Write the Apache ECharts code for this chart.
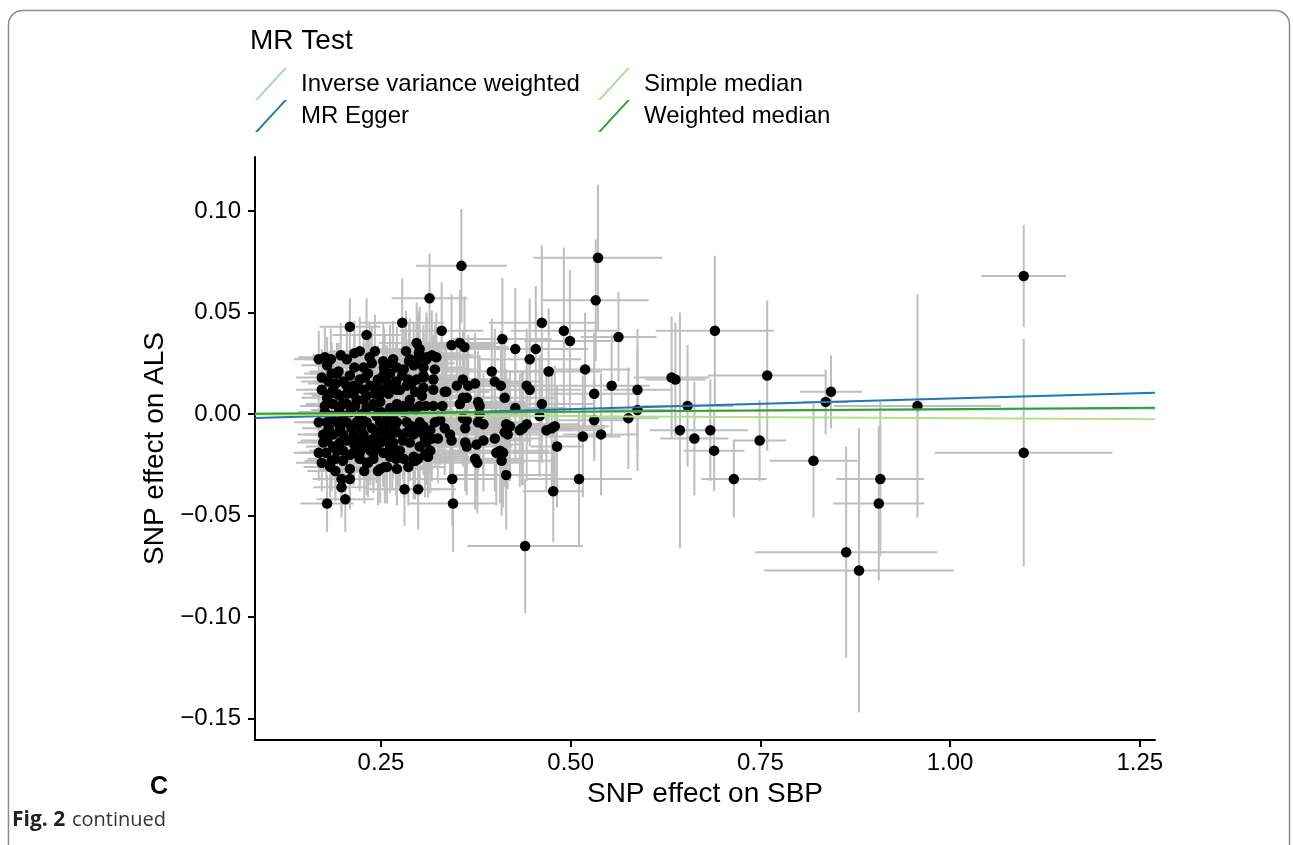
<!DOCTYPE html>
<html>
<head>
<meta charset="utf-8">
<script src="https://cdn.jsdelivr.net/npm/echarts@6/dist/echarts.min.js"></script>
<style>
html,body{margin:0;padding:0;background:#fff;}
#chart{width:1293px;height:845px;}
</style>
</head>
<body>
<div id="chart"></div>
<script>
// ---- axis ranges & ticks ----
const X_MIN = 0.084, X_MAX = 1.27;
const Y_MIN = -0.1605, Y_MAX = 0.1266;
const xTicks = [0.25, 0.50, 0.75, 1.00, 1.25];
const yTicks = [-0.15, -0.10, -0.05, 0.00, 0.05, 0.10];

// ---- MR method fits ----
const methods = ['Inverse variance weighted', 'MR Egger', 'Simple median', 'Weighted median'];
const methodIntercept = [0, -0.0028, 0, 0];
const methodSlope = [0.0022, 0.0105, -0.0020, 0.0025];
const methodColors = ['#a6cee3', '#1f78b4', '#b2df8a', '#33a02c'];

// ---- SNPs: [beta SBP, beta ALS, se SBP, se ALS] ----
const clusterUpper = [
 [0.209,0.043,0.040,0.014],[0.231,0.039,0.045,0.018],[0.278,0.045,0.055,0.022],[0.297,0.035,0.050,0.020],
 [0.300,0.030,0.055,0.021],[0.298,0.027,0.050,0.022],[0.283,0.031,0.048,0.020],[0.287,0.026,0.052,0.019],
 [0.293,0.024,0.046,0.021],[0.306,0.013,0.055,0.022],[0.309,0.004,0.050,0.020],[0.288,0.004,0.048,0.021],
 [0.262,0.003,0.045,0.018],[0.271,0.002,0.050,0.019],[0.286,0.017,0.047,0.020],[0.297,0.017,0.052,0.021],
 [0.306,0.019,0.050,0.022],[0.253,0.012,0.044,0.018],[0.260,0.010,0.046,0.017],[0.271,0.012,0.048,0.019],
 [0.246,0.017,0.042,0.017],[0.253,0.019,0.045,0.018],[0.262,0.020,0.047,0.018],[0.254,0.023,0.043,0.019],
 [0.262,0.025,0.048,0.019],[0.271,0.023,0.046,0.020],[0.266,0.027,0.050,0.019],[0.242,0.031,0.045,0.018],
 [0.222,0.031,0.040,0.017],[0.227,0.023,0.042,0.016],[0.233,0.020,0.044,0.017],[0.222,0.017,0.040,0.016],
 [0.209,0.019,0.038,0.015],[0.200,0.016,0.040,0.015],[0.192,0.020,0.036,0.015],[0.194,0.021,0.038,0.014],
 [0.197,0.029,0.037,0.016],[0.168,0.027,0.033,0.014],[0.176,0.028,0.035,0.015],[0.179,0.024,0.034,0.014],
 [0.181,0.016,0.036,0.014],[0.183,0.010,0.035,0.015],[0.179,0.008,0.034,0.014],[0.176,0.004,0.033,0.015],
 [0.176,0.001,0.035,0.014],[0.192,0.010,0.037,0.015],[0.205,0.010,0.039,0.015],[0.200,0.005,0.038,0.016],
 [0.187,0.005,0.036,0.015],[0.214,0.010,0.040,0.016],[0.227,0.012,0.042,0.016],[0.227,0.007,0.043,0.017],
 [0.216,0.004,0.040,0.016],[0.231,0.003,0.042,0.017],[0.240,0.004,0.044,0.017],[0.236,0.014,0.043,0.017],
 [0.242,0.010,0.045,0.018],[0.229,0.018,0.042,0.017],[0.214,0.014,0.039,0.016],[0.253,0.026,0.046,0.019],
 [0.255,0.021,0.045,0.018],[0.288,0.027,0.049,0.020],[0.297,0.025,0.050,0.020],[0.306,0.023,0.053,0.021],
 [0.310,0.028,0.055,0.022],[0.187,0.012,0.036,0.015],[0.196,0.009,0.037,0.015],[0.205,0.005,0.038,0.016],
 [0.218,0.007,0.040,0.016],[0.231,0.009,0.042,0.017],[0.240,0.005,0.044,0.017],[0.249,0.010,0.045,0.018],
 [0.262,0.014,0.047,0.018],[0.275,0.012,0.049,0.019],[0.284,0.014,0.050,0.019],[0.290,0.015,0.050,0.020],
 [0.295,0.011,0.051,0.020],[0.304,0.009,0.052,0.021],[0.271,0.005,0.048,0.019],[0.279,0.004,0.049,0.019],
 [0.288,0.007,0.050,0.020],[0.301,0.004,0.052,0.020],
 [0.195,0.002,0.037,0.015],[0.210,0.001,0.039,0.016],[0.225,0.000,0.041,0.016],[0.250,0.001,0.045,0.018],
 [0.280,0.001,0.049,0.019],[0.295,0.002,0.051,0.020],[0.190,0.015,0.036,0.015],[0.205,0.014,0.038,0.015],
 [0.220,0.013,0.041,0.016],[0.245,0.014,0.044,0.017],[0.270,0.016,0.048,0.019],[0.278,0.019,0.049,0.019],
 [0.185,0.020,0.036,0.015],[0.215,0.023,0.040,0.016],[0.238,0.025,0.044,0.018],[0.280,0.022,0.049,0.020],
 [0.172,0.018,0.034,0.014],[0.184,0.027,0.035,0.015],[0.205,0.027,0.038,0.016],[0.215,0.030,0.040,0.016],
 [0.249,0.006,0.045,0.018],[0.258,0.016,0.046,0.018],[0.235,0.028,0.043,0.017],[0.172,0.012,0.034,0.014]
];
const clusterLower = [
 [0.168,-0.004,0.033,0.014],[0.179,-0.004,0.035,0.014],[0.192,-0.004,0.037,0.015],[0.205,-0.004,0.039,0.015],
 [0.218,-0.004,0.040,0.016],[0.231,-0.004,0.042,0.017],[0.249,-0.004,0.045,0.017],[0.262,-0.004,0.047,0.018],
 [0.271,-0.004,0.048,0.018],[0.284,-0.004,0.050,0.019],[0.301,-0.004,0.052,0.020],
 [0.174,-0.010,0.034,0.014],[0.187,-0.010,0.036,0.015],[0.200,-0.010,0.038,0.015],[0.214,-0.010,0.040,0.016],
 [0.227,-0.010,0.042,0.016],[0.244,-0.010,0.044,0.017],[0.258,-0.010,0.046,0.018],[0.279,-0.010,0.049,0.019],
 [0.293,-0.010,0.050,0.019],[0.306,-0.010,0.053,0.020],
 [0.168,-0.019,0.033,0.014],[0.172,-0.024,0.034,0.014],[0.183,-0.026,0.035,0.015],[0.200,-0.023,0.038,0.015],
 [0.214,-0.019,0.040,0.016],[0.231,-0.024,0.042,0.016],[0.240,-0.022,0.044,0.017],[0.249,-0.027,0.045,0.017],
 [0.258,-0.026,0.046,0.018],[0.271,-0.027,0.048,0.018],[0.293,-0.023,0.050,0.019],[0.299,-0.022,0.051,0.020],
 [0.198,-0.032,0.038,0.015],[0.209,-0.032,0.040,0.015],[0.198,-0.036,0.037,0.015],[0.203,-0.042,0.038,0.016],
 [0.179,-0.044,0.035,0.014],[0.281,-0.037,0.048,0.018],[0.299,-0.037,0.050,0.020],
 [0.209,-0.027,0.040,0.016],[0.196,-0.014,0.037,0.015],[0.187,-0.016,0.036,0.015],[0.222,-0.016,0.041,0.016],
 [0.236,-0.018,0.043,0.017],[0.253,-0.019,0.045,0.017],[0.262,-0.016,0.047,0.018],[0.275,-0.018,0.048,0.018],
 [0.288,-0.014,0.050,0.019],[0.174,-0.014,0.034,0.014],[0.179,-0.013,0.035,0.014],[0.185,-0.023,0.036,0.015],
 [0.190,-0.022,0.037,0.015],[0.209,-0.020,0.039,0.016],[0.222,-0.019,0.041,0.016],[0.227,-0.016,0.042,0.016],
 [0.233,-0.024,0.043,0.017],[0.246,-0.028,0.045,0.017],[0.255,-0.026,0.046,0.018],[0.293,-0.021,0.050,0.019],
 [0.295,-0.023,0.051,0.019],[0.312,-0.021,0.054,0.020],[0.279,-0.013,0.049,0.019],[0.284,-0.009,0.050,0.019],
 [0.271,-0.009,0.048,0.018],[0.262,-0.011,0.047,0.018],[0.253,-0.013,0.045,0.017],[0.249,-0.014,0.045,0.017],
 [0.273,-0.018,0.048,0.018],[0.240,-0.019,0.044,0.017],[0.236,-0.016,0.043,0.017],[0.301,-0.016,0.052,0.020],
 [0.308,-0.013,0.053,0.020],[0.317,-0.012,0.055,0.021],[0.315,-0.018,0.055,0.021],[0.301,-0.008,0.052,0.020],
 [0.312,-0.009,0.054,0.020],[0.181,-0.007,0.035,0.014],[0.196,-0.007,0.037,0.015],[0.211,-0.007,0.039,0.016],
 [0.224,-0.007,0.041,0.016],[0.238,-0.007,0.043,0.017],[0.255,-0.007,0.046,0.018],[0.268,-0.007,0.047,0.018],
 [0.290,-0.006,0.050,0.019],[0.185,-0.001,0.036,0.015],[0.200,-0.001,0.038,0.015],[0.222,-0.001,0.041,0.016],
 [0.244,-0.001,0.044,0.017],[0.259,-0.002,0.046,0.018],[0.266,-0.001,0.047,0.018],
 [0.192,-0.018,0.037,0.015],[0.205,-0.013,0.038,0.015],[0.218,-0.013,0.040,0.016],[0.231,-0.013,0.042,0.016],
 [0.244,-0.017,0.044,0.017],[0.266,-0.014,0.047,0.018],[0.222,-0.022,0.041,0.016],[0.262,-0.021,0.047,0.018],
 [0.280,-0.022,0.049,0.019],[0.286,-0.026,0.050,0.019],[0.190,-0.028,0.037,0.015],
 [0.250,-0.008,0.045,0.017],[0.265,-0.019,0.047,0.018],[0.240,-0.012,0.044,0.017],[0.215,-0.015,0.040,0.016],
 [0.200,-0.018,0.038,0.015],[0.178,-0.019,0.035,0.014],[0.228,-0.028,0.042,0.016],[0.270,-0.022,0.048,0.018]
];
const middleSnps = [
 [0.314,0.057,0.050,0.022],[0.330,0.041,0.055,0.024],[0.343,0.034,0.058,0.025],[0.354,0.035,0.060,0.026],
 [0.360,0.033,0.058,0.025],[0.356,0.073,0.060,0.028],[0.301,0.032,0.052,0.021],[0.310,0.027,0.054,0.021],
 [0.317,0.029,0.055,0.022],[0.323,0.028,0.056,0.022],[0.321,0.022,0.055,0.022],[0.319,0.017,0.055,0.022],
 [0.306,0.018,0.052,0.021],[0.319,0.012,0.055,0.022],[0.334,0.011,0.057,0.023],[0.350,0.014,0.058,0.024],
 [0.358,0.017,0.060,0.024],[0.365,0.014,0.060,0.025],[0.374,0.015,0.062,0.025],[0.358,0.008,0.060,0.024],
 [0.354,0.005,0.059,0.024],[0.378,0.006,0.062,0.025],[0.380,0.004,0.063,0.025],[0.363,0.008,0.060,0.025],
 [0.319,0.004,0.055,0.022],[0.331,0.004,0.056,0.023],[0.306,-0.006,0.053,0.021],[0.315,-0.008,0.054,0.021],
 [0.321,-0.004,0.055,0.022],[0.328,-0.003,0.056,0.022],[0.334,-0.007,0.057,0.023],[0.341,-0.010,0.058,0.023],
 [0.343,-0.013,0.058,0.023],[0.325,-0.012,0.056,0.022],[0.312,-0.019,0.054,0.021],[0.310,-0.014,0.054,0.021],
 [0.358,-0.002,0.060,0.024],[0.378,-0.004,0.062,0.025],[0.385,-0.005,0.063,0.025],[0.415,-0.005,0.066,0.027],
 [0.433,-0.008,0.068,0.028],[0.459,-0.001,0.070,0.030],[0.361,-0.014,0.060,0.024],[0.363,-0.016,0.060,0.024],
 [0.385,-0.013,0.063,0.025],[0.400,-0.012,0.064,0.026],[0.413,-0.009,0.066,0.027],[0.420,-0.006,0.066,0.027],
 [0.437,-0.007,0.068,0.028],[0.442,-0.005,0.068,0.028],[0.468,-0.008,0.070,0.030],[0.475,-0.007,0.070,0.030],
 [0.479,-0.006,0.071,0.030],[0.308,-0.020,0.053,0.021],[0.374,-0.022,0.062,0.025],[0.377,-0.024,0.062,0.025],
 [0.407,-0.018,0.065,0.026],[0.409,-0.023,0.065,0.027],[0.411,-0.019,0.065,0.027],[0.415,-0.030,0.066,0.027],
 [0.344,-0.032,0.058,0.023],[0.345,-0.044,0.058,0.024],[0.376,-0.015,0.062,0.025],[0.402,-0.019,0.064,0.026],
 [0.361,-0.007,0.060,0.024],[0.363,-0.003,0.060,0.024],[0.380,0.000,0.063,0.025],[0.417,-0.010,0.066,0.027],
 [0.436,-0.007,0.068,0.028],[0.396,0.021,0.064,0.026],[0.400,0.016,0.064,0.026],[0.408,0.014,0.065,0.027],
 [0.442,0.014,0.068,0.028],[0.446,0.012,0.068,0.028],[0.413,0.008,0.066,0.027],[0.427,0.003,0.067,0.027],
 [0.462,0.005,0.070,0.029],[0.410,0.037,0.065,0.030],[0.427,0.032,0.067,0.030],[0.454,0.032,0.069,0.031],
 [0.446,0.027,0.068,0.030],[0.471,0.021,0.070,0.031],[0.462,0.045,0.070,0.038],[0.336,0.011,0.057,0.023]
];
const outlierSnps = [
 [0.536,0.077,0.085,0.036],[0.533,0.056,0.070,0.030],[0.491,0.041,0.070,0.041],[0.499,0.036,0.060,0.035],
 [0.563,0.038,0.050,0.022],[0.519,0.022,0.060,0.028],[0.554,0.014,0.050,0.025],[0.531,0.010,0.060,0.030],
 [0.588,0.012,0.045,0.030],[0.633,0.018,0.050,0.030],[0.638,0.017,0.040,0.028],[0.690,0.041,0.078,0.037],
 [0.759,0.019,0.078,0.037],[0.843,0.011,0.041,0.018],[0.836,0.006,0.030,0.016],[0.957,0.004,0.110,0.055],
 [1.097,0.068,0.056,0.025],[1.097,-0.019,0.117,0.056],[0.654,0.004,0.060,0.030],[0.531,-0.003,0.050,0.020],
 [0.576,-0.002,0.040,0.025],[0.588,0.002,0.050,0.030],[0.516,-0.011,0.050,0.030],[0.540,-0.010,0.050,0.030],
 [0.644,-0.008,0.040,0.058],[0.663,-0.012,0.045,0.028],[0.684,-0.008,0.050,0.025],[0.689,-0.018,0.040,0.020],
 [0.749,-0.013,0.035,0.020],[0.482,-0.016,0.035,0.030],[0.511,-0.032,0.070,0.033],[0.477,-0.038,0.040,0.025],
 [0.715,-0.032,0.043,0.019],[0.820,-0.023,0.058,0.028],[0.908,-0.032,0.058,0.038],[0.906,-0.044,0.060,0.038],
 [0.863,-0.068,0.120,0.052],[0.880,-0.077,0.125,0.070],[0.440,-0.065,0.076,0.033]
];

const allSnps = clusterUpper.concat(clusterLower, middleSnps, outlierSnps);

const FONT = "'Liberation Sans', Arial, Helvetica, sans-serif";
const fmtY = v => (v < -1e-9 ? '\u2212' : '') + Math.abs(v).toFixed(2);
const slashIcon = 'path://M0,32 L2.6,32 L32,0 L29.4,0 Z M41,16 L41,16 Z';

const chart = echarts.init(document.getElementById('chart'), null, {renderer: 'canvas'});

const lineSeries = methods.map((m, i) => ({
  type: 'line',
  name: m,
  color: methodColors[i],
  data: [[X_MIN, methodIntercept[i] + methodSlope[i] * X_MIN],
         [X_MAX, methodIntercept[i] + methodSlope[i] * X_MAX]],
  showSymbol: false,
  symbol: 'none',
  lineStyle: {width: 2, color: methodColors[i]},
  itemStyle: {color: methodColors[i]},
  z: 3,
  silent: true,
  clip: true
}));

const legendCommon = {
  orient: 'vertical',
  top: 68,
  padding: 0,
  itemWidth: 41,
  itemHeight: 32,
  itemGap: 0,
  icon: slashIcon,
  selectedMode: false,
  textStyle: {fontFamily: FONT, fontSize: 24, color: '#000'}
};

chart.setOption({
  animation: false,
  backgroundColor: '#fff',
  grid: {left: 255, right: 138, top: 157, bottom: 105, containLabel: false},
  xAxis: {
    type: 'value', min: X_MIN, max: X_MAX,
    name: 'SNP effect on SBP', nameLocation: 'middle', nameGap: 38,
    nameTextStyle: {fontFamily: FONT, fontSize: 28, color: '#000'},
    axisLine: {show: true, onZero: false, lineStyle: {color: '#000', width: 2}},
    axisTick: {show: true, length: 7, lineStyle: {color: '#000', width: 2}, customValues: xTicks},
    axisLabel: {fontFamily: FONT, fontSize: 24, color: '#000', margin: 11,
                customValues: xTicks, formatter: v => v.toFixed(2)},
    splitLine: {show: false}
  },
  yAxis: {
    type: 'value', min: Y_MIN, max: Y_MAX,
    name: 'SNP effect on ALS', nameLocation: 'middle', nameGap: 84,
    nameTextStyle: {fontFamily: FONT, fontSize: 28, color: '#000'},
    axisLine: {show: true, onZero: false, lineStyle: {color: '#000', width: 2}},
    axisTick: {show: true, length: 7, lineStyle: {color: '#000', width: 2}, customValues: yTicks},
    axisLabel: {fontFamily: FONT, fontSize: 24, color: '#000', margin: 14,
                customValues: yTicks, formatter: fmtY},
    splitLine: {show: false}
  },
  legend: [
    Object.assign({left: 255, data: [methods[0], methods[1]]}, legendCommon),
    Object.assign({left: 598, data: [methods[2], methods[3]]}, legendCommon)
  ],
  graphic: [
    {type: 'rect', silent: true, z: 0,
     shape: {x: 8.5, y: 10.5, width: 1281, height: 900, r: 14},
     style: {fill: 'none', stroke: '#8c8c8c', lineWidth: 1.5}},
    {type: 'text', left: 250, top: 27, silent: true,
     style: {text: 'MR Test', fontFamily: FONT, fontSize: 28, fill: '#000'}},
    {type: 'text', left: 150, top: 775, silent: true,
     style: {text: 'C', fontFamily: FONT, fontSize: 25, fontWeight: 'bold', fill: '#000'}},
    {type: 'text', left: 12, top: 810, silent: true,
     style: {text: '{b|Fig. 2}  {n|continued}',
             rich: {b: {fontFamily: "'Open Sans', 'Noto Sans', sans-serif", fontSize: 21, fontWeight: 'bold', fill: '#222'},
                    n: {fontFamily: "'Open Sans', 'Noto Sans', sans-serif", fontSize: 20, fill: '#333'}}}}
  ],
  series: [
    {
      type: 'custom',
      name: 'SE',
      data: allSnps,
      encode: {x: 0, y: 1},
      clip: true,
      silent: true,
      z: 1,
      renderItem: function (params, api) {
        const x = api.value(0), y = api.value(1), xe = api.value(2), ye = api.value(3);
        const l = api.coord([x - xe, y]), r = api.coord([x + xe, y]);
        const t = api.coord([x, y + ye]), b = api.coord([x, y - ye]);
        const st = {stroke: '#bebebe', lineWidth: 2, fill: null};
        return {type: 'group', children: [
          {type: 'line', shape: {x1: l[0], y1: l[1], x2: r[0], y2: r[1]}, style: st},
          {type: 'line', shape: {x1: t[0], y1: t[1], x2: b[0], y2: b[1]}, style: st}
        ]};
      }
    },
    {
      type: 'scatter',
      name: 'SNP',
      data: allSnps.map(d => [d[0], d[1]]),
      symbolSize: 10.5,
      itemStyle: {color: '#000', opacity: 1},
      silent: true,
      z: 2
    }
  ].concat(lineSeries)
});
</script>
</body>
</html>
